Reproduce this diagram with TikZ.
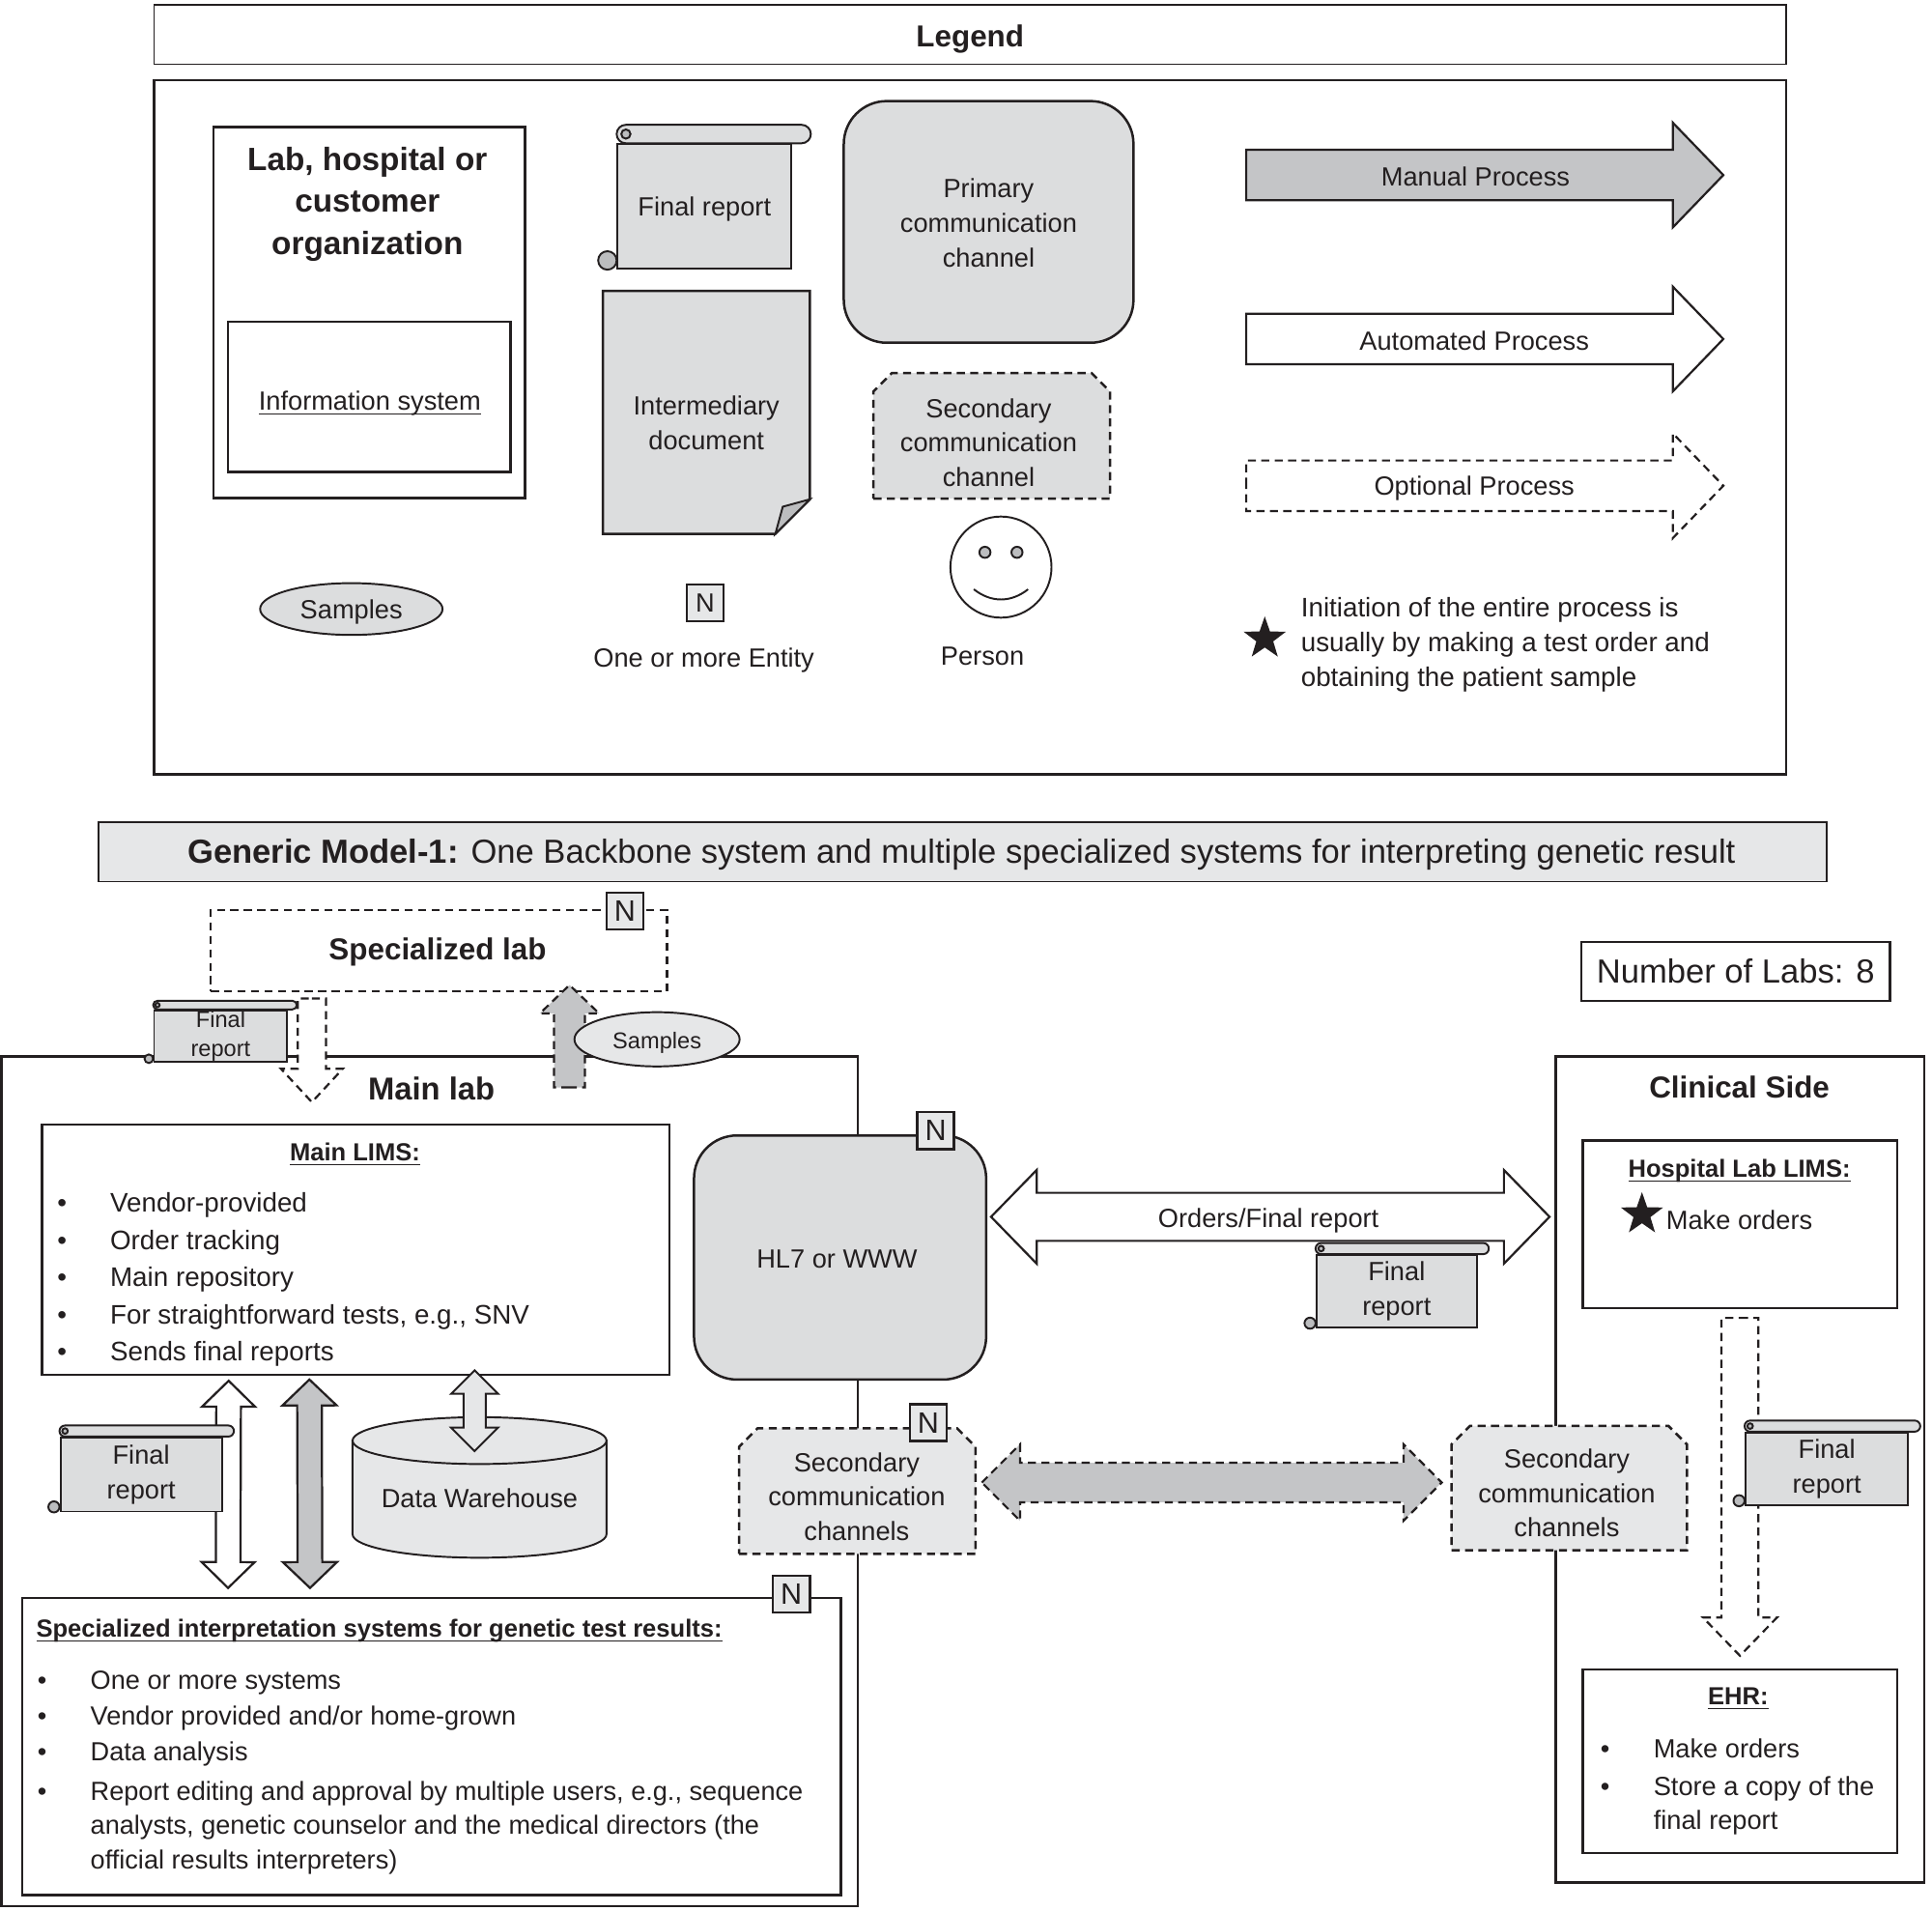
\documentclass[tikz,border=0pt]{standalone}
\usepackage{fontspec}
\setmainfont{Liberation Sans}
\usetikzlibrary{shapes, calc}
\definecolor{ink}{HTML}{231F20}
\definecolor{docgray}{HTML}{DCDDDE}
\definecolor{softgray}{HTML}{E6E7E8}
\definecolor{arrowgray}{HTML}{C4C5C7}
\definecolor{foldgray}{HTML}{BCBDBF}
\newcommand{\un}{0.4594pt}
\newcommand{\bitem}[1]{\makebox[19.75pt][l]{\textbullet}#1}
\newcommand{\bcont}[1]{\hspace*{19.75pt}#1}
\newcommand{\ultxt}[1]{\underline{\smash{#1}}}
\newcommand{\rollup}[2]{%
	\draw[rollline, rounded corners=#2/2*\un] ([shift={(0,-#2)}]#1.north west) rectangle ([shift={(#2,0)}]#1.north east);
	\draw[rollline, fill=foldgray] ([shift={(#2/2,-#2/2)}]#1.north west) circle (#2/4*\un);
	\draw[rollline, fill=foldgray] ([shift={(-#2/2,-#2/2)}]#1.south west) circle (#2/2*\un);
}
\newcommand{\chamfer}[2]{%
	\draw[frame, dashline, fill=#2] (#1.south west) -- (#1.south east) -- ([yshift=-15*\un]#1.north east) -- ([xshift=-15*\un]#1.north east) -- ([xshift=15*\un]#1.north west) -- ([yshift=-15*\un]#1.north west) -- cycle;
}
\tikzset{
	wh/.style 2 args={minimum width=#1*\un, minimum height=#2*\un},
	fatarrow/.style n args={3}{to path={
		-- ($(\tikztostart)!#1*\un!90:(\tikztotarget)$)
		-- ($(\tikztotarget)!#3*\un!(\tikztostart)!#1*\un!90:(\tikztotarget)$)
		-- ($(\tikztotarget)!#3*\un!(\tikztostart)!#2*\un!90:(\tikztotarget)$)
		-- (\tikztotarget)
		-- ($(\tikztotarget)!#3*\un!(\tikztostart)!#2*\un!-90:(\tikztotarget)$)
		-- ($(\tikztotarget)!#3*\un!(\tikztostart)!#1*\un!-90:(\tikztotarget)$)
		-- ($(\tikztostart)!#1*\un!-90:(\tikztotarget)$)
		-- cycle}},
	fatdouble/.style n args={3}{to path={
		-- ($(\tikztostart)!#3*\un!(\tikztotarget)!#2*\un!90:(\tikztotarget)$)
		-- ($(\tikztostart)!#3*\un!(\tikztotarget)!#1*\un!90:(\tikztotarget)$)
		-- ($(\tikztotarget)!#3*\un!(\tikztostart)!#1*\un!90:(\tikztotarget)$)
		-- ($(\tikztotarget)!#3*\un!(\tikztostart)!#2*\un!90:(\tikztotarget)$)
		-- (\tikztotarget)
		-- ($(\tikztotarget)!#3*\un!(\tikztostart)!#2*\un!-90:(\tikztotarget)$)
		-- ($(\tikztotarget)!#3*\un!(\tikztostart)!#1*\un!-90:(\tikztotarget)$)
		-- ($(\tikztostart)!#3*\un!(\tikztotarget)!#1*\un!-90:(\tikztotarget)$)
		-- ($(\tikztostart)!#3*\un!(\tikztotarget)!#2*\un!-90:(\tikztotarget)$)
		-- cycle}}
}
\tikzstyle{frame} = [draw=ink, line width=0.9pt, rectangle, inner sep=0pt, text=ink, font=\fontsize{9.8}{12.86}\selectfont, align=center]
\tikzstyle{thinframe} = [frame, line width=0.5pt]
\tikzstyle{dashline} = [dash pattern=on 3pt off 2pt]
\tikzstyle{channel} = [frame, fill=docgray, rounded corners=16pt]
\tikzstyle{secondary} = [rectangle, inner sep=0pt]
\tikzstyle{scrollnote} = [frame, line width=0.7pt, fill=docgray]
\tikzstyle{rollline} = [draw=ink, line width=0.7pt, fill=docgray]
\tikzstyle{entity} = [frame, fill=softgray, minimum size=30*\un]
\tikzstyle{bigentity} = [entity, font=\fontsize{11}{13}\selectfont]
\tikzstyle{blob} = [frame, ellipse, line width=0.7pt]
\tikzstyle{oneline} = [text height=.72em, text depth=0pt]
\tikzstyle{txt} = [inner sep=0pt, text=ink, font=\fontsize{9.8}{12.86}\selectfont, align=center]
\tikzstyle{listtxt} = [txt, align=left, anchor=west, font=\fontsize{10}{12.86}\selectfont]
\tikzstyle{headtxt} = [txt, font=\fontsize{12}{15.7}\selectfont\bfseries]
\tikzstyle{smallhead} = [txt, oneline, font=\fontsize{11.3}{14}\selectfont\bfseries]
\tikzstyle{subhead} = [txt, oneline, font=\fontsize{9.2}{12}\selectfont\bfseries]
\tikzstyle{bigtxt} = [font=\fontsize{12.45}{15}\selectfont]
\tikzstyle{starmark} = [star, star points=5, star point ratio=2.5, fill=ink, inner sep=0pt, minimum size=36*\un]
\tikzstyle{block} = [draw=ink, line width=0.8pt, line join=miter]

\begin{document}
\begin{tikzpicture}[x=\un, y=-\un]
	\useasboundingbox (0,0) rectangle (1567.3,1550);
	\node[thinframe, wh={1324}{48}] (legendbar) at (787,28) {};
	\node[smallhead] (legendtxt) at (787,30) {Legend};
	\node[frame, wh={1324}{563}] (legend) at (787,346.5) {};
	\node[frame, wh={253}{301}] (labkey) at (299.5,253.5) {};
	\node[headtxt] (labkeytitle) at (298,165.5) {Lab, hospital or\\customer\\organization};
	\node[frame, wh={229}{122}] (infokey) at (299.5,322) {};
	\node[txt, oneline] (infotxt) at (300,325) {\ultxt{Information system}};
	\node[blob, fill=docgray, wh={148}{42}, oneline] (sampleskey) at (285,494) {Samples};
	\node[scrollnote, wh={141}{101}, oneline] (reportkey) at (571.5,167.5) {Final report};
	\rollup{reportkey}{15}
	\draw[frame, fill=docgray] (489,236) -- (657,236) -- (657,405) -- (629,433) -- (489,433) -- cycle;
	\draw[frame, line width=0.7pt, fill=foldgray] (657,405) -- (635,411) -- (629,433) -- cycle;
	\node[txt] (dockey) at (573,343) {Intermediary\\document};
	\node[entity] (entitykey) at (572,489) {N};
	\node[txt, oneline] (entitytxt) at (571,533) {One or more Entity};
	\node[channel, wh={235}{196}] (primarykey) at (802,180) {};
	\node[txt] (primarytxt) at (802,181) {Primary\\communication\\channel};
	\node[secondary, wh={191}{101}] (secondkey) at (804.5,353.5) {};
	\chamfer{secondkey}{docgray}
	\node[txt] (secondtxt) at (802,359) {Secondary\\communication\\channel};
	\node[frame, circle, line width=0.7pt, minimum size=82*\un] (person) at (812,460) {};
	\draw[rollline, fill=foldgray] ([shift={(-13,-12)}]person.center) circle (4.5*\un);
	\draw[rollline, fill=foldgray] ([shift={(13,-12)}]person.center) circle (4.5*\un);
	\draw[rollline, fill=none] ([shift={(-22,18)}]person.center) .. controls ([shift={(-8,29)}]person.center) and ([shift={(8,29)}]person.center) .. ([shift={(22,18)}]person.center);
	\node[txt, oneline] (persontxt) at (797,532) {Person};
	\coordinate (manuala) at (1011,142);
	\coordinate (manualb) at (1398,142);
	\coordinate (autoa) at (1011,275);
	\coordinate (autob) at (1398,275);
	\coordinate (opta) at (1011,394);
	\coordinate (optb) at (1398,394);
	\draw[block, fill=arrowgray, fatarrow={20.5}{42.5}{41}] (manuala) to (manualb);
	\draw[block, fatarrow={20.5}{42.5}{41}] (autoa) to (autob);
	\draw[block, dashline, fatarrow={20.5}{42.5}{41}] (opta) to (optb);
	\node[txt, oneline] (manualtxt) at (1197,143) {Manual Process};
	\node[txt, oneline] (autotxt) at (1196,276) {Automated Process};
	\node[txt, oneline] (opttxt) at (1196,394) {Optional Process};
	\node[starmark] (starkey) at (1026,518) {};
	\node[listtxt] (starnote) at (1055,523) {Initiation of the entire process is\\usually by making a test order and\\obtaining the patient sample};
	\node[thinframe, fill=softgray, wh={1402}{48}] (modelbar) at (781,691) {};
	\node[txt, oneline, bigtxt] (modeltxt) at (780,692.5) {\textbf{Generic Model-1:} One Backbone system and multiple specialized systems for interpreting genetic result};
	\node[frame, wh={695}{689}] (mainlab) at (348.5,1201.5) {};
	\node[frame, wh={299}{670}] (clinical) at (1411.5,1192) {};
	\node[frame, dashline, wh={370}{66}] (speclab) at (356,771) {};
	\node[smallhead] (speclabtxt) at (355,771) {Specialized lab};
	\node[bigentity] (specn) at (507,739) {N};
	\node[txt, oneline, bigtxt] (numtxt) at (1408,789.5) {Number of Labs: 8};
	\node[frame, wh={250}{48}] (numlabs) at (1408,788) {};
	\coordinate (sampletail) at (462,882);
	\draw[block, dashline, fill=white, fatarrow={11.5}{25}{27}] ([shift={(-103,5)}]speclab.south) to ([shift={(-103,89)}]speclab.south);
	\draw[block, dashline, fill=arrowgray, fatarrow={12.5}{24}{23}] (sampletail) to ([yshift=6*\un]sampletail |- speclab.south);
	\node[scrollnote, wh={108}{42}, font=\fontsize{8.5}{10.6}\selectfont] (reportspec) at (179,840.5) {Final\\report};
	\rollup{reportspec}{7}
	\node[blob, fill=softgray, wh={134}{44}, oneline, font=\fontsize{8.5}{10.6}\selectfont] (samplesspec) at (533,843) {Samples};
	\node[smallhead, font=\fontsize{11.8}{14}\selectfont\bfseries] (mainlabtxt) at (350,884) {Main lab};
	\node[frame, wh={509}{203}] (lims) at (288.5,1013.5) {};
	\node[subhead] (limstitle) at (288,934) {\ultxt{Main LIMS:}};
	\node[listtxt] (limslist) at (46,1038) {\bitem{Vendor-provided}\\[1pt]\bitem{Order tracking}\\[1pt]\bitem{Main repository}\\[1pt]\bitem{For straightforward tests, e.g., SNV}\\[1pt]\bitem{Sends final reports}};
	\node[channel, wh={237}{198}] (hl7) at (681.5,1020) {};
	\node[txt, oneline] (hl7txt) at (679,1021) {HL7 or WWW};
	\node[bigentity] (hl7n) at (759,917) {N};
	\node[frame, wh={664}{241}] (interp) at (350,1416.5) {};
	\node[bigentity] (interpn) at (642,1293) {N};
	\node[subhead, anchor=west] (interptitle) at (29,1320) {\ultxt{Specialized interpretation systems for genetic test results:}};
	\node[listtxt, font=\fontsize{9.77}{12.86}\selectfont] (interplist) at (30,1438) {\bitem{One or more systems}\\[.4pt]\bitem{Vendor provided and/or home-grown}\\[.4pt]\bitem{Data analysis}\\[1.8pt]\bitem{Report editing and approval by multiple users, e.g., sequence}\\\bcont{analysts, genetic counselor and the medical directors (the}\\\bcont{official results interpreters)}};
	\draw[block, fill=white, fatdouble={10}{21.5}{21}] ([shift={(-103,4)}]lims.south) to ([shift={(-165,-7)}]interp.north);
	\draw[block, fill=arrowgray, fatdouble={10}{22}{21}] ([shift={(-37.5,3)}]lims.south) to ([shift={(-98.5,-7)}]interp.north);
	\node[scrollnote, wh={131}{60}] (reportmain) at (114.5,1196) {Final\\report};
	\rollup{reportmain}{9}
	\draw[rollline, fill=softgray] (286,1168.5) -- (286,1244.5) arc[start angle=180, end angle=360, x radius=103*\un, y radius=19*\un] -- (492,1168.5) -- cycle;
	\draw[rollline, fill=softgray] (389,1168.5) ellipse [x radius=103*\un, y radius=19*\un];
	\node[txt, oneline] (warehouse) at (389,1215) {Data Warehouse};
	\draw[block, line width=0.7pt, fill=softgray, fatdouble={9}{19}{19}] ([shift={(96.5,-4.5)}]lims.south) to ([shift={(-4,-38)}]warehouse.center);
	\node[secondary, wh={191}{101}] (sec1) at (695.5,1209.5) {};
	\chamfer{sec1}{softgray}
	\node[txt] (sec1txt) at (695,1214) {Secondary\\communication\\channels};
	\node[bigentity] (sec1n) at (753,1154) {N};
	\node[secondary, wh={190}{100}] (sec2) at (1273,1207) {};
	\chamfer{sec2}{softgray}
	\node[txt] (sec2txt) at (1271,1211) {Secondary\\communication\\channels};
	\coordinate (orderl) at ([shift={(3,-33)}]hl7.east);
	\draw[block, fatdouble={19.5}{38}{37}] (orderl) to ([xshift=-4*\un]orderl -| clinical.west);
	\node[txt, oneline] (ordertxt) at (1029,988) {Orders/Final report};
	\node[scrollnote, wh={130}{59}] (reportorder) at (1133,1047.5) {Final\\report};
	\rollup{reportorder}{9}
	\coordinate (secl) at ([shift={(5,-7)}]sec1.east);
	\draw[block, dashline, fill=arrowgray, fatdouble={16}{31}{31}] (secl) to ([xshift=-8*\un]secl -| sec2.west);
	\node[smallhead] (clinicaltxt) at (1411,883) {Clinical Side};
	\node[frame, wh={255}{136}] (hospital) at (1411.5,993) {};
	\node[subhead] (hospitaltitle) at (1411,947) {\ultxt{Hospital Lab LIMS:}};
	\node[starmark] (starhosp) at (1332,985) {};
	\node[txt, oneline] (hospitaltxt) at (1411,989) {Make orders};
	\node[frame, wh={255}{149}] (ehr) at (1411.5,1428.5) {};
	\node[subhead] (ehrtitle) at (1410,1375) {\ultxt{EHR:}};
	\node[listtxt, font=\fontsize{9.8}{12.86}\selectfont] (ehrlist) at (1298,1449.5) {\bitem{Make orders}\\[1pt]\bitem{Store a copy of the}\\\bcont{final report}};
	\draw[block, dashline, fill=white, fatarrow={15}{30}{31}] ([yshift=-7*\un]hospital.south) to ([yshift=10*\un]ehr.north);
	\node[scrollnote, wh={132}{59}] (reportclin) at (1482,1191.5) {Final\\report};
	\rollup{reportclin}{9}
\end{tikzpicture}
\end{document}
